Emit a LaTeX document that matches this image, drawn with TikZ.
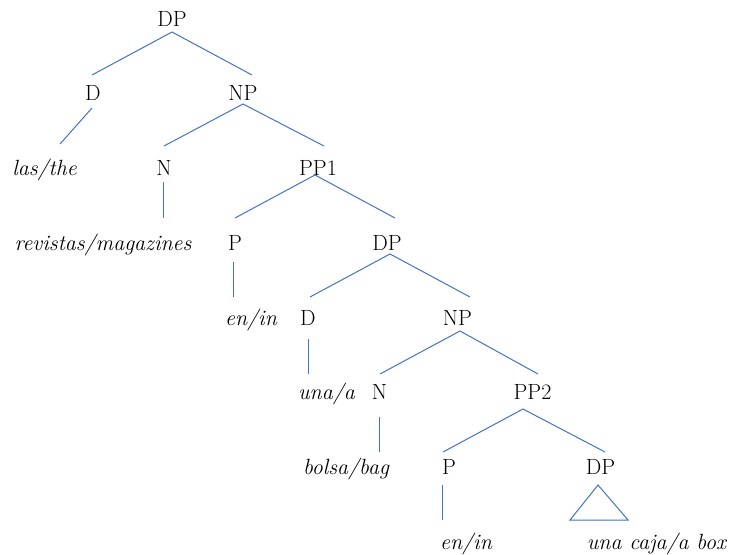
\documentclass[tikz,border=0pt]{standalone}
\definecolor{treeblue}{RGB}{68,114,196}
\tikzset{
  lab/.style={anchor=base, inner sep=0pt, font=\fontsize{22}{26}\selectfont},
  word/.style={lab, font=\fontsize{22}{26}\selectfont\itshape},
  branch/.style={draw=treeblue, line width=1pt}
}
\begin{document}
\begin{tikzpicture}[x=1pt,y=-1pt]
\useasboundingbox (0,0) rectangle (733,554);
% nodes
\node[lab] (dp1) at (172,26) {DP};
\node[lab] (d1) at (93,100.5) {D};
\node[lab] (np1) at (243,100.5) {NP};
\node[word] (w1) at (44.5,175) {las/the};
\node[lab] (n1) at (164,175) {N};
\node[lab] (pp1) at (318,175) {PP1};
\node[word] (w2) at (103,250) {revistas/magazines};
\node[lab] (p1) at (235,250) {P};
\node[lab] (dp2) at (387,250) {DP};
\node[word] (w3) at (251,325) {en/in};
\node[lab] (d2) at (308,325) {D};
\node[lab] (np2) at (457.5,325) {NP};
\node[word] (w4) at (326.5,399.5) {una/a};
\node[lab] (n2) at (379.5,399.5) {N};
\node[lab] (pp2) at (532.5,399.5) {PP2};
\node[word] (w5) at (346,474.5) {bolsa/bag};
\node[lab] (p2) at (449,474.5) {P};
\node[lab] (dp3) at (600.5,474.5) {DP};
\node[word] (w6) at (466,549.5) {en/in};
\node[word] (w7) at (656.5,549.5) {una caja/a box};
% branch end points
\coordinate (dp1b) at (172,32);
\coordinate (d1t) at (92,75);
\coordinate (np1t) at (252,75);
\coordinate (d1b) at (92,108);
\coordinate (w1t) at (60,144);
\coordinate (np1b) at (243,104);
\coordinate (n1t) at (164,146);
\coordinate (pp1t) at (324,146);
\coordinate (n1b) at (163.5,182);
\coordinate (w2t) at (163.5,218);
\coordinate (pp1b) at (315,175);
\coordinate (p1t) at (235,218);
\coordinate (dp2t) at (395,218);
\coordinate (p1b) at (233.5,262);
\coordinate (w3t) at (233.5,297);
\coordinate (dp2b) at (390,254);
\coordinate (d2t) at (310,297);
\coordinate (np2t) at (470,297);
\coordinate (d2b) at (308.5,339);
\coordinate (w4t) at (308.5,374);
\coordinate (np2b) at (460,331);
\coordinate (n2t) at (380,374);
\coordinate (pp2t) at (538,374);
\coordinate (n2b) at (379.5,417);
\coordinate (w5t) at (379.5,452);
\coordinate (pp2b) at (523,409);
\coordinate (p2t) at (443,452);
\coordinate (dp3t) at (605,452);
\coordinate (p2b) at (442.5,485);
\coordinate (w6t) at (442.5,520);
\coordinate (tA) at (598,485);
\coordinate (tL) at (570,520);
\coordinate (tR) at (628,520);
% branches
\draw[branch] (d1t) -- (dp1b) -- (np1t);
\draw[branch] (d1b) -- (w1t);
\draw[branch] (n1t) -- (np1b) -- (pp1t);
\draw[branch] (n1b) -- (w2t);
\draw[branch] (p1t) -- (pp1b) -- (dp2t);
\draw[branch] (p1b) -- (w3t);
\draw[branch] (d2t) -- (dp2b) -- (np2t);
\draw[branch] (d2b) -- (w4t);
\draw[branch] (n2t) -- (np2b) -- (pp2t);
\draw[branch] (n2b) -- (w5t);
\draw[branch] (p2t) -- (pp2b) -- (dp3t);
\draw[branch] (p2b) -- (w6t);
\draw[branch] (tA) -- (tL) -- (tR) -- cycle;
\end{tikzpicture}
\end{document}
